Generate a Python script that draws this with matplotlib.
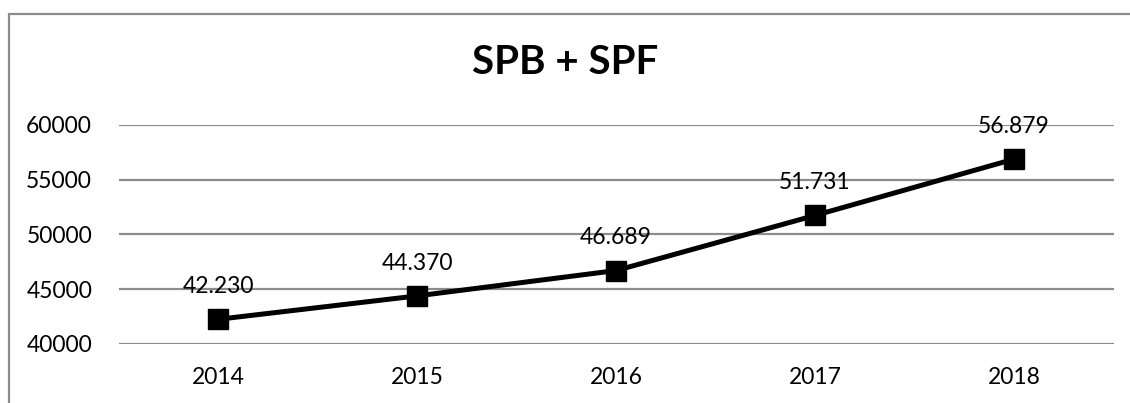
import matplotlib
matplotlib.use("Agg")
import matplotlib.pyplot as plt
from matplotlib.patches import Rectangle

years = ["2014", "2015", "2016", "2017", "2018"]
values = [42230, 44370, 46689, 51731, 56879]
title = "SPB + SPF"
yticks = [40000, 45000, 50000, 55000, 60000]

plt.rcParams['font.family'] = ['Lato', 'DejaVu Sans']

W, H = 1130, 403
fig = plt.figure(figsize=(W/100, H/100), dpi=100)

left, right = 118.5, 1113.5
top, bottom = 125.0, 343.7
ax = fig.add_axes([left/W, 1 - bottom/H, (right-left)/W, (bottom-top)/H])

x = list(range(len(years)))
ax.plot(x, values, color='black', lw=3.6, marker='s', ms=14.5, zorder=3, clip_on=False)
ax.set_xlim(-0.5, len(years) - 0.5)
ax.set_ylim(40000, 60000)
ax.set_yticks(yticks)
ax.set_yticklabels([str(v) for v in yticks])
ax.set_xticks(x)
ax.set_xticklabels(years)
ax.tick_params(axis='both', length=0, labelsize=16.5, colors='#000000')
ax.tick_params(axis='y', pad=19)
ax.tick_params(axis='x', pad=17)
ax.grid(axis='y', color='#8c8c8c', lw=1.6)
ax.set_axisbelow(True)
for s in ax.spines.values():
    s.set_visible(False)

for xi, v in zip(x, values):
    lbl = f"{v:,}".replace(",", ".")
    ax.annotate(lbl, (xi, v), xytext=(0, 16), textcoords='offset points',
                ha='center', va='bottom', fontsize=16.5, color='black', zorder=4)

fig.text(0.5, 1 - 63/H, title, ha='center', va='center', fontsize=29, fontweight='bold')

fig.patches.append(Rectangle((8.5/W, -0.1), 1.2, 1 - 13.5/H + 0.1, transform=fig.transFigure,
                             fill=False, edgecolor='#8c8c8c', lw=1.6))

fig.savefig("out.png", dpi=100)
